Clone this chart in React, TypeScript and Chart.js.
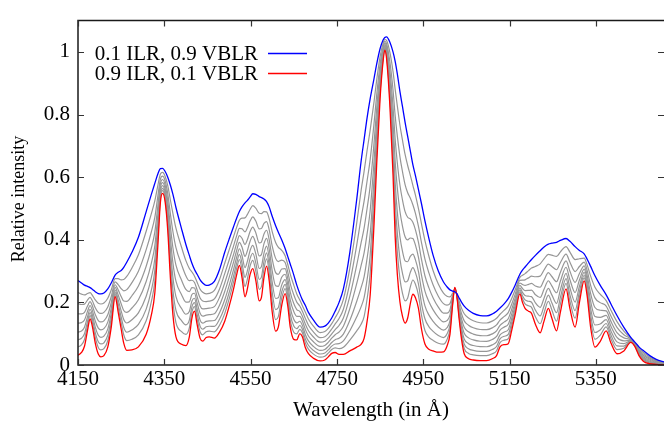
import React, { useEffect, useRef } from "react";
import { Chart, registerables } from "chart.js";

Chart.register(...registerables);

// Wavelength grid (Å)
const wavelengths = [
  4150, 4158, 4165, 4172, 4178, 4183, 4190, 4197, 4203, 4210,
  4219, 4227, 4236, 4243, 4250, 4256, 4263, 4275, 4290, 4308,
  4320, 4328, 4335, 4341, 4346, 4352, 4358, 4364, 4370, 4377,
  4390, 4400, 4408, 4414, 4420, 4426, 4433, 4439, 4447, 4454,
  4466, 4478, 4490, 4501, 4510, 4518, 4524, 4530, 4537, 4542,
  4549, 4555, 4562, 4570, 4575, 4581, 4587, 4593, 4600, 4608,
  4614, 4622, 4630, 4636, 4642, 4650, 4657, 4664, 4670, 4677,
  4684, 4695, 4711, 4722, 4730, 4738, 4746, 4755, 4765, 4780,
  4796, 4806, 4813, 4820, 4827, 4836, 4842, 4850, 4857, 4861,
  4865, 4873, 4880, 4885, 4890, 4896, 4902, 4908, 4914, 4920,
  4926, 4932, 4939, 4946, 4954, 4963, 4973, 4985, 4997, 5005,
  5012, 5018, 5023, 5028, 5033, 5039, 5045, 5055, 5066, 5082,
  5097, 5110, 5120, 5128, 5138, 5147, 5155, 5163, 5174, 5180,
  5186, 5194, 5201, 5210, 5221, 5230, 5240, 5248, 5259, 5268,
  5281, 5290, 5302, 5312, 5323, 5330, 5338, 5348, 5360, 5374,
  5385, 5399, 5415, 5431, 5440, 5450, 5460, 5475, 5490, 5510,
];

// 0.1 ILR, 0.9 VBLR (blue)
const vblrDominated = [
  0.270, 0.262, 0.255, 0.251, 0.247, 0.242, 0.234, 0.228, 0.227, 0.230,
  0.243, 0.262, 0.287, 0.296, 0.302, 0.312, 0.328, 0.360, 0.408, 0.490,
  0.545, 0.580, 0.610, 0.627, 0.628, 0.618, 0.600, 0.575, 0.545, 0.503,
  0.435, 0.385, 0.350, 0.325, 0.305, 0.290, 0.272, 0.262, 0.254, 0.255,
  0.267, 0.305, 0.360, 0.405, 0.440, 0.470, 0.490, 0.505, 0.518, 0.525,
  0.537, 0.547, 0.545, 0.538, 0.535, 0.530, 0.522, 0.505, 0.475, 0.445,
  0.425, 0.400, 0.372, 0.347, 0.322, 0.288, 0.255, 0.228, 0.208, 0.190,
  0.168, 0.145, 0.121, 0.124, 0.134, 0.150, 0.172, 0.200, 0.243, 0.360,
  0.530, 0.650, 0.720, 0.790, 0.850, 0.915, 0.960, 1.010, 1.038, 1.046,
  1.048, 1.030, 1.000, 0.970, 0.930, 0.874, 0.825, 0.775, 0.730, 0.685,
  0.640, 0.605, 0.560, 0.515, 0.460, 0.405, 0.350, 0.300, 0.265, 0.250,
  0.240, 0.236, 0.234, 0.228, 0.215, 0.200, 0.188, 0.175, 0.165, 0.158,
  0.157, 0.163, 0.172, 0.182, 0.196, 0.212, 0.232, 0.255, 0.290, 0.303,
  0.313, 0.326, 0.337, 0.350, 0.365, 0.377, 0.386, 0.389, 0.392, 0.398,
  0.404, 0.395, 0.378, 0.366, 0.355, 0.338, 0.315, 0.285, 0.255, 0.224,
  0.195, 0.158, 0.120, 0.088, 0.074, 0.058, 0.046, 0.030, 0.018, 0.009,
];

// 0.9 ILR, 0.1 VBLR (red)
const ilrDominated = [
  0.031, 0.040, 0.060, 0.110, 0.147, 0.125, 0.070, 0.035, 0.026, 0.030,
  0.057, 0.120, 0.218, 0.170, 0.115, 0.070, 0.047, 0.048, 0.058, 0.098,
  0.160, 0.230, 0.380, 0.520, 0.548, 0.520, 0.430, 0.280, 0.160, 0.090,
  0.066, 0.062, 0.090, 0.150, 0.172, 0.130, 0.085, 0.076, 0.088, 0.090,
  0.086, 0.105, 0.140, 0.191, 0.240, 0.290, 0.318, 0.280, 0.218, 0.240,
  0.290, 0.308, 0.270, 0.205, 0.215, 0.280, 0.316, 0.270, 0.170, 0.108,
  0.120, 0.190, 0.228, 0.190, 0.120, 0.082, 0.080, 0.100, 0.090, 0.055,
  0.036, 0.022, 0.013, 0.016, 0.026, 0.037, 0.040, 0.034, 0.034, 0.045,
  0.057, 0.066, 0.085, 0.140, 0.222, 0.450, 0.636, 0.850, 0.970, 1.006,
  0.980, 0.822, 0.610, 0.410, 0.290, 0.202, 0.155, 0.134, 0.150, 0.195,
  0.226, 0.215, 0.181, 0.115, 0.067, 0.050, 0.045, 0.041, 0.042, 0.060,
  0.098, 0.190, 0.248, 0.220, 0.150, 0.080, 0.036, 0.020, 0.016, 0.014,
  0.014, 0.020, 0.030, 0.058, 0.065, 0.068, 0.110, 0.160, 0.227, 0.200,
  0.181, 0.172, 0.165, 0.130, 0.103, 0.140, 0.181, 0.150, 0.109, 0.170,
  0.243, 0.180, 0.121, 0.200, 0.269, 0.220, 0.120, 0.057, 0.075, 0.109,
  0.070, 0.036, 0.045, 0.072, 0.060, 0.030, 0.012, 0.004, 0.002, 0.000,
];

// Intermediate mixes (fraction of the way from the blue to the red profile)
const mixFractions = [0.16, 0.31, 0.445, 0.57, 0.69, 0.795, 0.89];

const xTicks = [4150, 4350, 4550, 4750, 4950, 5150, 5350];
const yTicks = [0, 0.2, 0.4, 0.6, 0.8, 1];
const legendLabels = ["0.1 ILR, 0.9 VBLR", "0.9 ILR, 0.1 VBLR"];
const xTitle = "Wavelength (in Å)";
const yTitle = "Relative intensity";

const FONT_FAMILY = '"Liberation Serif", "DejaVu Serif", serif';
const FONT_SIZE = 21;

const framePlugin = {
  id: "gnuplotFrame",
  afterDraw(chart: any) {
    const { ctx, chartArea } = chart;
    const { left, right, top, bottom } = chartArea;
    const xs = chart.scales.x;
    const ys = chart.scales.y;
    ctx.save();
    ctx.strokeStyle = "#1a1a1a";
    ctx.lineWidth = 1.5;
    ctx.beginPath();
    ctx.moveTo(right + 2, top);
    ctx.lineTo(left, top);
    ctx.lineTo(left, bottom);
    ctx.lineTo(right + 2, bottom);
    ctx.stroke();
    ctx.lineWidth = 1.2;
    ctx.strokeStyle = "#333";
    const tl = 6;
    ctx.beginPath();
    xTicks.forEach((v) => {
      const px = Math.round(xs.getPixelForValue(v)) + 0.5;
      ctx.moveTo(px, bottom);
      ctx.lineTo(px, bottom - tl);
      ctx.moveTo(px, top);
      ctx.lineTo(px, top + tl);
    });
    yTicks.forEach((v) => {
      const py = Math.round(ys.getPixelForValue(v)) + 0.5;
      ctx.moveTo(left, py);
      ctx.lineTo(left + tl, py);
      ctx.moveTo(right, py);
      ctx.lineTo(right - tl, py);
    });
    ctx.stroke();

    // y-axis title
    ctx.save();
    ctx.translate(19, 199);
    ctx.rotate(-Math.PI / 2);
    ctx.font = `18px ${FONT_FAMILY}`;
    ctx.fillStyle = "#000";
    ctx.textAlign = "center";
    ctx.textBaseline = "middle";
    ctx.fillText(yTitle, 0, 0);
    ctx.restore();

    // key
    const colors = ["#0000ff", "#ff0000"];
    const rowsY = [53, 73];
    ctx.font = `${FONT_SIZE}px ${FONT_FAMILY}`;
    ctx.fillStyle = "#000";
    ctx.textAlign = "right";
    ctx.textBaseline = "middle";
    legendLabels.forEach((lab, i) => {
      ctx.fillText(lab, 258, rowsY[i] + 1);
      ctx.strokeStyle = colors[i];
      ctx.lineWidth = 1.3;
      ctx.beginPath();
      ctx.moveTo(268, rowsY[i] + 0.5);
      ctx.lineTo(307, rowsY[i] + 0.5);
      ctx.stroke();
    });
    ctx.restore();
  },
};

export default function App() {
  const canvasRef = useRef<HTMLCanvasElement | null>(null);

  useEffect(() => {
    if (!canvasRef.current) return;
    const toPoints = (arr: number[]) =>
      wavelengths.map((x, i) => ({ x, y: arr[i] }));
    const grays = mixFractions.map((t) => ({
      data: toPoints(
        vblrDominated.map((b, i) => b + t * (ilrDominated[i] - b))
      ),
      borderColor: "rgb(150,150,150)",
      borderWidth: 1.2,
      pointRadius: 0,
      cubicInterpolationMode: "monotone" as const,
      fill: false,
    }));
    const chart = new Chart(canvasRef.current, {
      type: "line",
      data: {
        datasets: [
          {
            label: legendLabels[0],
            data: toPoints(vblrDominated),
            borderColor: "#0000ff",
            borderWidth: 1.3,
            pointRadius: 0,
            cubicInterpolationMode: "monotone",
            fill: false,
          },
          {
            label: legendLabels[1],
            data: toPoints(ilrDominated),
            borderColor: "#ff0000",
            borderWidth: 1.3,
            pointRadius: 0,
            cubicInterpolationMode: "monotone",
            fill: false,
          },
          ...grays,
        ],
      },
      options: {
        animation: false,
        responsive: false,
        events: [],
        layout: { padding: { top: 11, right: 0, left: 0, bottom: 0 } },
        plugins: {
          legend: { display: false },
          tooltip: { enabled: false },
        },
        scales: {
          x: {
            type: "linear",
            min: 4150,
            max: 5508,
            grid: { display: false, drawTicks: false },
            border: { display: false },
            afterBuildTicks: (scale: any) => {
              scale.ticks = xTicks.map((v) => ({ value: v }));
            },
            afterFit: (scale: any) => {
              scale.height = 58;
            },
            ticks: {
              color: "#000",
              padding: 2,
              maxRotation: 0,
              autoSkip: false,
              font: { family: FONT_FAMILY, size: FONT_SIZE },
              callback: (v: any) => String(v),
            },
            title: {
              display: true,
              text: xTitle,
              color: "#000",
              padding: { top: 0, bottom: 0 },
              font: { family: FONT_FAMILY, size: FONT_SIZE },
            },
          },
          y: {
            type: "linear",
            min: 0,
            max: 1.1,
            grid: { display: false, drawTicks: false },
            border: { display: false },
            afterBuildTicks: (scale: any) => {
              scale.ticks = yTicks.map((v) => ({ value: v }));
            },
            afterFit: (scale: any) => {
              scale.width = 78;
            },
            ticks: {
              color: "#000",
              padding: 8,
              autoSkip: false,
              font: { family: FONT_FAMILY, size: FONT_SIZE },
              callback: (v: any) => String(v),
            },
          },
        },
      },
      plugins: [framePlugin],
    });
    return () => chart.destroy();
  }, []);

  return (
    <div
      style={{
        position: "fixed",
        left: 0,
        top: 0,
        width: 664,
        height: 423,
        background: "#fff",
      }}
    >
      <canvas
        ref={canvasRef}
        width={664}
        height={423}
        style={{ display: "block", width: 664, height: 423 }}
      />
    </div>
  );
}
